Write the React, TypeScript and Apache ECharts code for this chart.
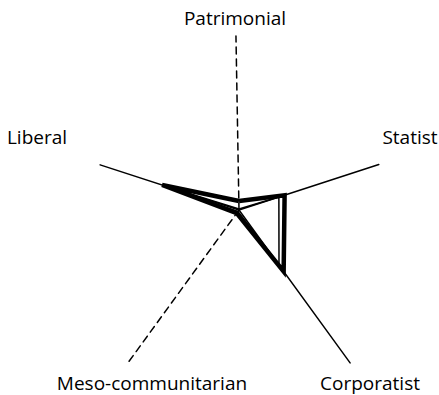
import React, { useEffect, useRef } from 'react';
import * as echarts from 'echarts';

// ---- data ----
const categories = ['Patrimonial', 'Statist', 'Corporatist', 'Meso-communitarian', 'Liberal'];
const thickValues = [4.8, 25.5, 40.4, 2.1, 43];
const thinValues = [0.5, 22.3, 36.2, 1, 41.5];
const axisMax = 100;

// ---- layout ----
const CENTER = [239, 210];
const DATA_RADIUS = 188;
const axisRadii = [174, 147, 189, 188, 146];
const axisAngles = [91, 18, 306, 234, 162];
const axisDashed = [true, false, false, true, false];
const labelPos = [
  [235, 18],
  [410, 137],
  [370, 383],
  [152, 383],
  [37, 137],
];

export default function App() {
  const ref = useRef<HTMLDivElement>(null);
  useEffect(() => {
    const chart = echarts.init(ref.current!, undefined, { renderer: 'svg' });
    // ECharts radar places indicators counter-clockwise from the top
    const order = [0, 4, 3, 2, 1];
    const radars: any[] = [
      {
        center: CENTER,
        radius: DATA_RADIUS,
        startAngle: 90,
        shape: 'polygon',
        indicator: order.map((i) => ({ name: categories[i], min: 0, max: axisMax })),
        axisName: { show: false },
        axisLine: { show: false },
        axisTick: { show: false },
        axisLabel: { show: false },
        splitLine: { show: false },
        splitArea: { show: false },
      },
    ];
    categories.forEach((name, i) => {
      radars.push({
        center: CENTER,
        radius: axisRadii[i],
        startAngle: axisAngles[i],
        indicator: [{ name, min: 0, max: axisMax }],
        axisName: { show: false },
        axisLine: {
          show: true,
          lineStyle: { color: '#000', width: 1.5, type: axisDashed[i] ? [7, 5] : 'solid' },
        },
        axisTick: { show: false },
        axisLabel: { show: false },
        splitLine: { show: false },
        splitArea: { show: false },
      });
    });
    chart.setOption({
      animation: false,
      radar: radars,
      series: [
        {
          type: 'radar',
          radarIndex: 0,
          symbol: 'none',
          silent: true,
          lineStyle: { color: '#000', width: 4.5, join: 'miter' },
          data: [{ value: order.map((i) => thickValues[i]) }],
        },
        {
          type: 'radar',
          radarIndex: 0,
          symbol: 'none',
          silent: true,
          lineStyle: { color: '#000', width: 1.5 },
          data: [{ value: order.map((i) => thinValues[i]) }],
        },
      ],
      graphic: categories.map((name, i) => ({
        type: 'text',
        x: labelPos[i][0],
        y: labelPos[i][1],
        silent: true,
        style: {
          text: name,
          fontSize: 19,
          fontFamily: '"Open Sans", sans-serif',
          fill: '#000',
          align: 'center',
          verticalAlign: 'middle',
        },
      })),
    });
    return () => chart.dispose();
  }, []);
  return (
    <div
      ref={ref}
      style={{ position: 'absolute', left: 0, top: 0, width: 439, height: 395, background: '#fff' }}
    />
  );
}
